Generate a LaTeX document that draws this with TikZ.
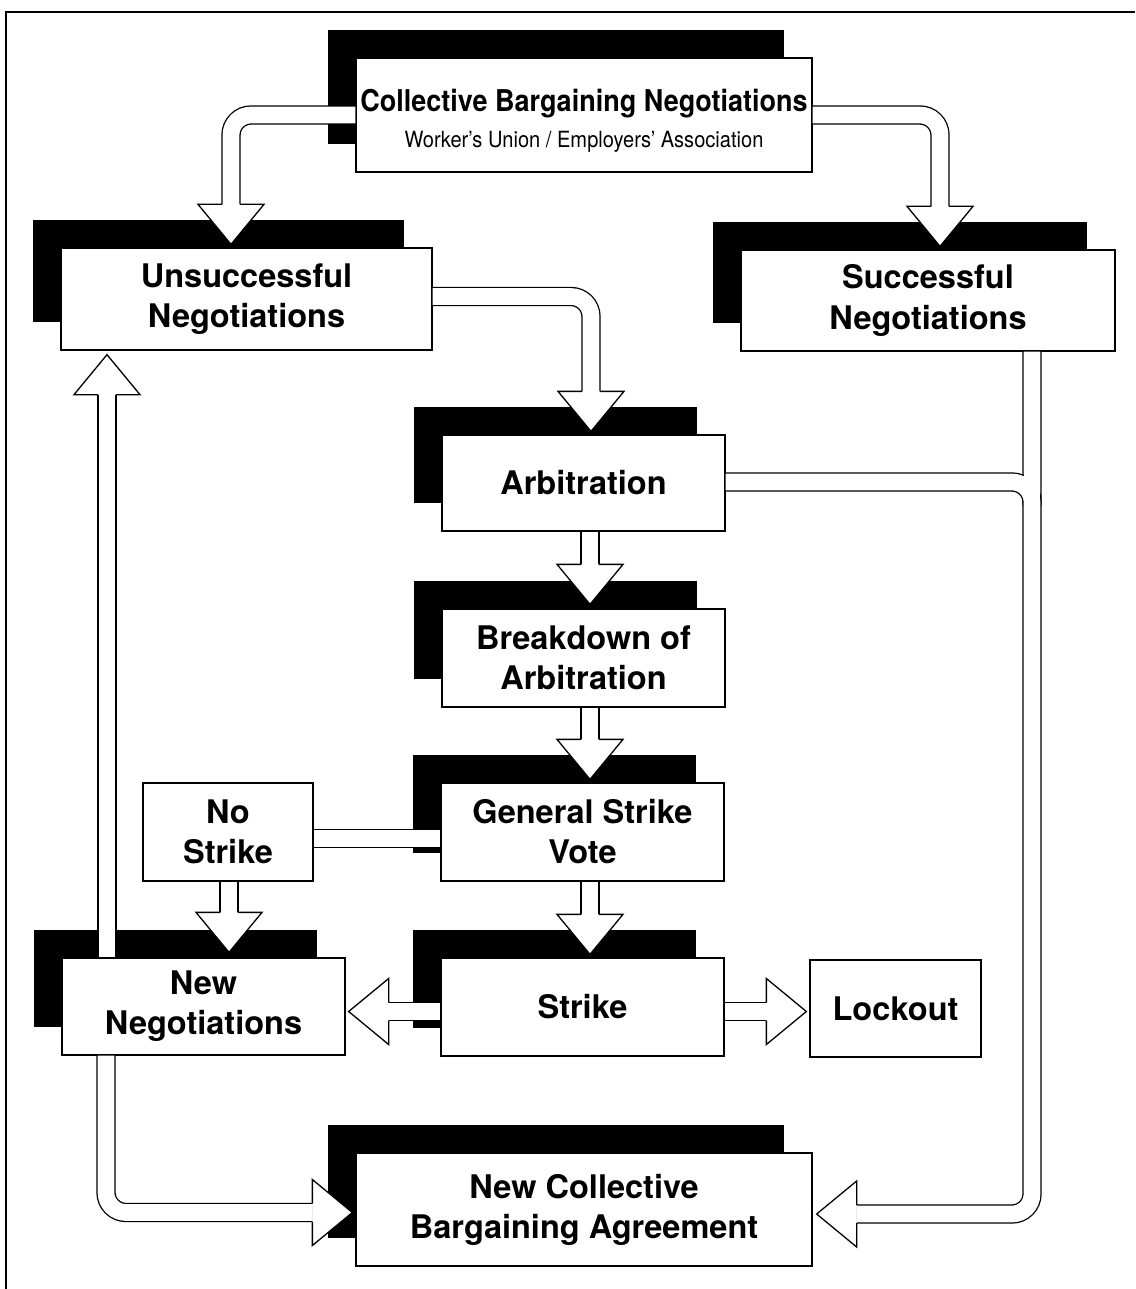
\documentclass[tikz,border=0pt]{standalone}
\usepackage{fontspec}
\setmainfont{TeX Gyre Heros}
\newfontfamily\titlefont[FakeStretch=0.9]{TeX Gyre Heros}
\usetikzlibrary{shadows,calc}
\tikzset{
  box/.style={draw, line width=1.3pt, fill=white, align=center, inner sep=0pt,
    font=\bfseries\fontsize{32.5}{40}\selectfont},
  sbox/.style={box, general shadow={fill=black, shadow xshift=-28pt, shadow yshift=28pt}},
  shaft/.style={draw=black, line width=1.3pt, double=white, double distance=16.7pt,
    rounded corners=20pt},
}
\newcommand{\fathead}[2]{%
  \begin{scope}[shift={#1}, rotate=#2]
    \fill[white] (0,0) -- (-40,33) -- (-40,-33) -- cycle;
    \draw[line width=1.3pt, line join=miter] (-40,9) -- (-40,33) -- (0,0) -- (-40,-33) -- (-40,-9);
  \end{scope}}
\begin{document}
\begin{tikzpicture}[x=1pt,y=-1pt]
\useasboundingbox (0,0) rectangle (1135,1289);
\fill[white] (0,0) rectangle (1135,1289);
\draw[line width=1.8pt] (6,1289) -- (6,12) -- (1135,12);

% boxes
\node[sbox, minimum width=456pt, minimum height=114pt] (top) at (584,115)
  {{\rule{0pt}{33pt}\titlefont\bfseries\fontsize{30}{34}\selectfont Collective Bargaining Negotiations}\\[-4pt]
   {\titlefont\mdseries\fontsize{22.3}{26}\selectfont Worker’s Union / Employers’ Association}};
\node[sbox, minimum width=371pt, minimum height=102pt] (unsucc) at (246.5,299) {Unsuccessful\\Negotiations};
\node[sbox, minimum width=374pt, minimum height=101pt] (succ) at (928,300.5) {Successful\\Negotiations};
\node[sbox, minimum width=283pt, minimum height=96pt] (arb) at (583.5,483) {Arbitration};
\node[sbox, minimum width=283pt, minimum height=98pt] (brk) at (583.5,658) {Breakdown of\\Arbitration};
\node[sbox, minimum width=283pt, minimum height=98pt] (gsv) at (582.5,832) {General Strike\\Vote};
\node[box, minimum width=170pt, minimum height=98pt] (nostrike) at (228,832) {No\\Strike};
\node[sbox, minimum width=283pt, minimum height=98pt] (strike) at (582.5,1007) {Strike};
\node[box, minimum width=171pt, minimum height=97pt] (lockout) at (895.5,1008.5) {Lockout};
\node[sbox, minimum width=283pt, minimum height=97pt] (newneg) at (203.5,1006.5) {New\\Negotiations};
\node[sbox, minimum width=456pt, minimum height=113pt] (cba) at (584,1209.5) {New Collective\\Bargaining Agreement};

% top -> unsuccessful
\draw[shaft] (top.west) -| ($(unsucc.north)+(-15.5,-42)$);
\fathead{($(unsucc.north)+(-15.5,-3)$)}{-90}
% top -> successful
\draw[shaft] (top.east) -| ($(succ.north)+(12,-42)$);
\fathead{($(succ.north)+(12,-3)$)}{-90}
% unsuccessful -> arbitration
\draw[shaft] ($(unsucc.east)+(0,-2.5)$) -| ($(arb.north)+(7.5,-42)$);
\fathead{($(arb.north)+(7.5,-3)$)}{-90}
% arbitration -> breakdown
\draw[shaft] ($(arb.south)+(6.5,0)$) -- ($(brk.north)+(6.5,-43)$);
\fathead{($(brk.north)+(6.5,-4)$)}{-90}
% breakdown -> general strike vote
\draw[shaft] ($(brk.south)+(6.5,0)$) -- ($(gsv.north)+(7.5,-42)$);
\fathead{($(gsv.north)+(7.5,-3)$)}{-90}
% general strike vote -> strike
\draw[shaft] ($(gsv.south)+(7.5,0)$) -- ($(strike.north)+(7.5,-42)$);
\fathead{($(strike.north)+(7.5,-3)$)}{-90}
% general strike vote -- no strike
\draw[shaft] ($(nostrike.east)+(0,6.5)$) -- ($(gsv.west)+(0,6.5)$);
% no strike -> new negotiations
\draw[shaft] ($(nostrike.south)+(1,0)$) -- ($(newneg.north)+(25.5,-44)$);
\fathead{($(newneg.north)+(25.5,-5)$)}{-90}
% strike -> new negotiations
\draw[shaft] ($(strike.west)+(0,4.5)$) -- ($(newneg.east)+(42,5)$);
\fathead{($(newneg.east)+(3,5)$)}{180}
% strike -> lockout
\draw[shaft] ($(strike.east)+(0,4.5)$) -- ($(lockout.west)+(-42,3)$);
\fathead{($(lockout.west)+(-3,3)$)}{0}
% new negotiations -> unsuccessful
\draw[shaft] ($(newneg.north)+(-96.5,0)$) -- ($(unsucc.south)+(-139.5,44)$);
\fathead{($(unsucc.south)+(-139.5,4)$)}{90}
% new negotiations -> new agreement
\draw[shaft] ($(newneg.south)+(-97.5,0)$) |- ($(cba.west)+(-43,3)$);
\fathead{($(cba.west)+(-3,3)$)}{0}
% successful -> new agreement
\draw[shaft] ($(succ.south)+(104,0)$) |- ($(cba.east)+(44,4.5)$);
\fathead{($(cba.east)+(4,4.5)$)}{180}
% arbitration joins the successful line
\draw[shaft] ($(arb.east)+(0,-1)$) -| ($(succ.south)+(104,154)$);
\fill[white] (1024,466) rectangle (1040,512);
\end{tikzpicture}
\end{document}
